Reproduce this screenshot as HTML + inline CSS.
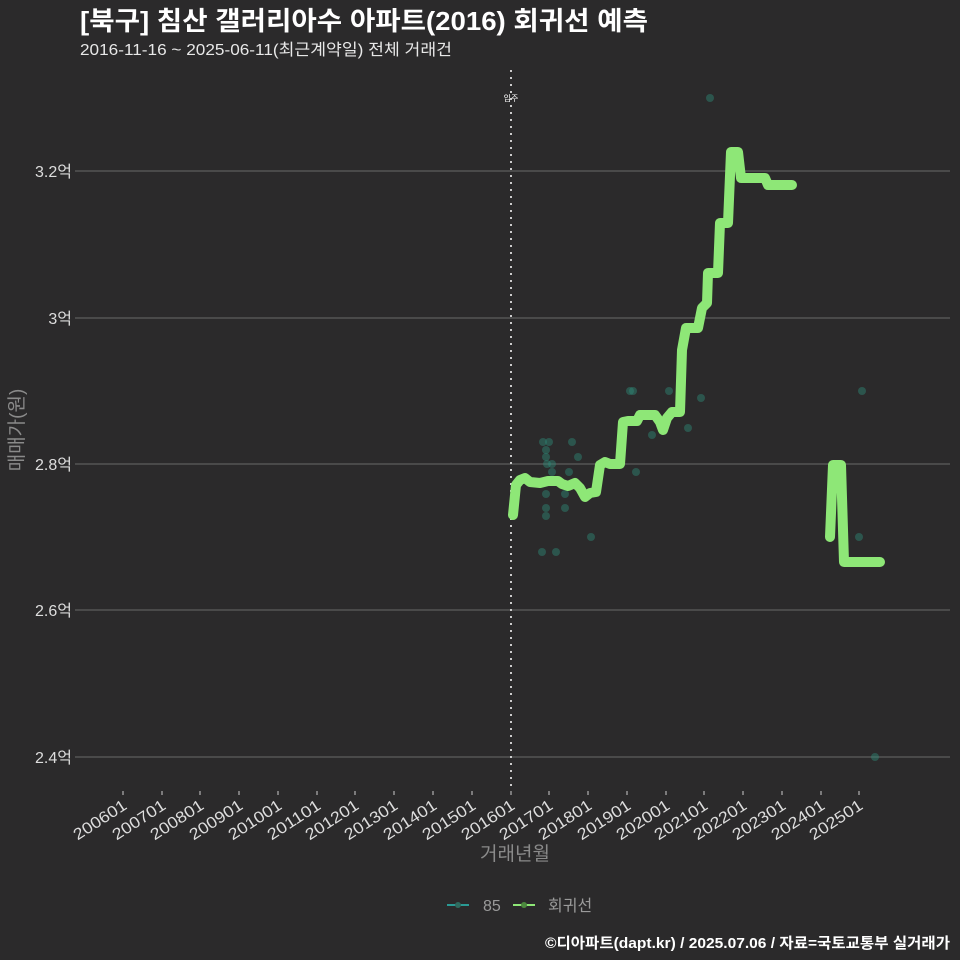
<!DOCTYPE html>
<html><head><meta charset="utf-8"><style>
html,body{margin:0;padding:0;background:#2b2a2b;}
svg{display:block;font-family:"Liberation Sans","Noto Sans CJK KR",sans-serif;}
</style></head><body>
<svg width="960" height="960" viewBox="0 0 960 960" xmlns="http://www.w3.org/2000/svg">
<rect width="960" height="960" fill="#2b2a2b"/>
<text x="80" y="30" fill="#ffffff" font-size="26" font-weight="bold" textLength="568" lengthAdjust="spacingAndGlyphs">[북구] 침산 갤러리아수 아파트(2016) 회귀선 예측</text>
<text x="80" y="55" fill="#e8e8e8" font-size="16" textLength="372" lengthAdjust="spacingAndGlyphs">2016-11-16 ~ 2025-06-11(최근계약일) 전체 거래건</text>
<g stroke="#6a6a6a" stroke-width="1">
<line x1="75" x2="950" y1="171" y2="171"/>
<line x1="75" x2="950" y1="318" y2="318"/>
<line x1="75" x2="950" y1="464" y2="464"/>
<line x1="75" x2="950" y1="610" y2="610"/>
<line x1="75" x2="950" y1="757" y2="757"/>
</g>
<g fill="#dddddd" font-size="16" text-anchor="end">
<text x="72" y="177">3.2억</text>
<text x="72" y="324">3억</text>
<text x="72" y="470">2.8억</text>
<text x="72" y="616">2.6억</text>
<text x="72" y="763">2.4억</text>
</g>
<text transform="translate(23,430) rotate(-90)" fill="#8a8a8a" font-size="19" text-anchor="middle">매매가(원)</text>
<line x1="511" x2="511" y1="70" y2="790" stroke="#cccccc" stroke-width="2" stroke-dasharray="2,5"/>
<text x="511" y="101" fill="#ffffff" font-size="8" text-anchor="middle">입주</text>
<g fill="#dddddd" font-size="16" text-anchor="end">
<text transform="translate(128,808) rotate(-33)" textLength="60" lengthAdjust="spacingAndGlyphs">200601</text>
<text transform="translate(167,808) rotate(-33)" textLength="60" lengthAdjust="spacingAndGlyphs">200701</text>
<text transform="translate(205,808) rotate(-33)" textLength="60" lengthAdjust="spacingAndGlyphs">200801</text>
<text transform="translate(244,808) rotate(-33)" textLength="60" lengthAdjust="spacingAndGlyphs">200901</text>
<text transform="translate(283,808) rotate(-33)" textLength="60" lengthAdjust="spacingAndGlyphs">201001</text>
<text transform="translate(322,808) rotate(-33)" textLength="60" lengthAdjust="spacingAndGlyphs">201101</text>
<text transform="translate(360,808) rotate(-33)" textLength="60" lengthAdjust="spacingAndGlyphs">201201</text>
<text transform="translate(399,808) rotate(-33)" textLength="60" lengthAdjust="spacingAndGlyphs">201301</text>
<text transform="translate(438,808) rotate(-33)" textLength="60" lengthAdjust="spacingAndGlyphs">201401</text>
<text transform="translate(477,808) rotate(-33)" textLength="60" lengthAdjust="spacingAndGlyphs">201501</text>
<text transform="translate(516,808) rotate(-33)" textLength="60" lengthAdjust="spacingAndGlyphs">201601</text>
<text transform="translate(554,808) rotate(-33)" textLength="60" lengthAdjust="spacingAndGlyphs">201701</text>
<text transform="translate(593,808) rotate(-33)" textLength="60" lengthAdjust="spacingAndGlyphs">201801</text>
<text transform="translate(632,808) rotate(-33)" textLength="60" lengthAdjust="spacingAndGlyphs">201901</text>
<text transform="translate(671,808) rotate(-33)" textLength="60" lengthAdjust="spacingAndGlyphs">202001</text>
<text transform="translate(709,808) rotate(-33)" textLength="60" lengthAdjust="spacingAndGlyphs">202101</text>
<text transform="translate(748,808) rotate(-33)" textLength="60" lengthAdjust="spacingAndGlyphs">202201</text>
<text transform="translate(787,808) rotate(-33)" textLength="60" lengthAdjust="spacingAndGlyphs">202301</text>
<text transform="translate(826,808) rotate(-33)" textLength="60" lengthAdjust="spacingAndGlyphs">202401</text>
<text transform="translate(864,808) rotate(-33)" textLength="60" lengthAdjust="spacingAndGlyphs">202501</text>
</g>
<g stroke="#cccccc" stroke-width="1">
<line x1="123" x2="123" y1="791" y2="795"/><line x1="162" x2="162" y1="791" y2="795"/><line x1="200" x2="200" y1="791" y2="795"/><line x1="239" x2="239" y1="791" y2="795"/><line x1="278" x2="278" y1="791" y2="795"/><line x1="317" x2="317" y1="791" y2="795"/><line x1="355" x2="355" y1="791" y2="795"/><line x1="394" x2="394" y1="791" y2="795"/><line x1="433" x2="433" y1="791" y2="795"/><line x1="472" x2="472" y1="791" y2="795"/><line x1="511" x2="511" y1="791" y2="795"/><line x1="549" x2="549" y1="791" y2="795"/><line x1="588" x2="588" y1="791" y2="795"/><line x1="627" x2="627" y1="791" y2="795"/><line x1="666" x2="666" y1="791" y2="795"/><line x1="704" x2="704" y1="791" y2="795"/><line x1="743" x2="743" y1="791" y2="795"/><line x1="782" x2="782" y1="791" y2="795"/><line x1="821" x2="821" y1="791" y2="795"/><line x1="859" x2="859" y1="791" y2="795"/>
</g>
<text x="515" y="860" fill="#8a8a8a" font-size="19" text-anchor="middle">거래년월</text>
<g fill="#2f8a78" fill-opacity="0.45">
<circle cx="543" cy="442" r="4"/><circle cx="549" cy="442" r="4"/><circle cx="572" cy="442" r="4"/><circle cx="546" cy="450" r="4"/><circle cx="546" cy="457" r="4"/><circle cx="578" cy="457" r="4"/><circle cx="547" cy="464" r="4"/><circle cx="552" cy="464" r="4"/><circle cx="552" cy="472" r="4"/><circle cx="569" cy="472" r="4"/><circle cx="546" cy="494" r="4"/><circle cx="565" cy="494" r="4"/><circle cx="546" cy="508" r="4"/><circle cx="565" cy="508" r="4"/><circle cx="546" cy="516" r="4"/><circle cx="591" cy="537" r="4"/><circle cx="542" cy="552" r="4"/><circle cx="556" cy="552" r="4"/><circle cx="630" cy="391" r="4"/><circle cx="633" cy="391" r="4"/><circle cx="669" cy="391" r="4"/><circle cx="701" cy="398" r="4"/><circle cx="652" cy="435" r="4"/><circle cx="688" cy="428" r="4"/><circle cx="636" cy="472" r="4"/><circle cx="710" cy="98" r="4"/><circle cx="862" cy="391" r="4"/><circle cx="859" cy="537" r="4"/><circle cx="875" cy="757" r="4"/>
</g>
<g fill="none" stroke="#8ee777" stroke-width="10" stroke-linecap="round" stroke-linejoin="round">
<polyline points="513,515 516,485 520,480 525,478 530,482 540,483 548,481 558,481 562,484 568,486 575,483 580,488 585,497 590,493 596,492 600,465 605,462 610,464 620,464 623,422 628,421 637,421 640,415 655,415 660,422 663,430 667,418 672,412 680,412 682,350 686,328 698,328 702,308 707,303 708,273 718,273 720,223 728,223 731,152 738,152 741,178 765,178 768,185 792,185"/>
<polyline points="830,537 833,465 841,465 844,562 880,562"/>
</g>
<line x1="447" x2="469" y1="905" y2="905" stroke="#2a9a94" stroke-width="2"/>
<circle cx="458" cy="905" r="3" fill="#2f6b5f"/>
<text x="483" y="911" fill="#9a9a9a" font-size="16">85</text>
<line x1="513" x2="535" y1="905" y2="905" stroke="#8ee777" stroke-width="2"/>
<circle cx="524" cy="905" r="3" fill="#4d8a3f"/>
<text x="548" y="911" fill="#9a9a9a" font-size="16">회귀선</text>
<text x="950" y="948" fill="#ffffff" font-size="15" font-weight="bold" text-anchor="end" textLength="405" lengthAdjust="spacingAndGlyphs">©디아파트(dapt.kr) / 2025.07.06 / 자료=국토교통부 실거래가</text>
</svg>
</body></html>
